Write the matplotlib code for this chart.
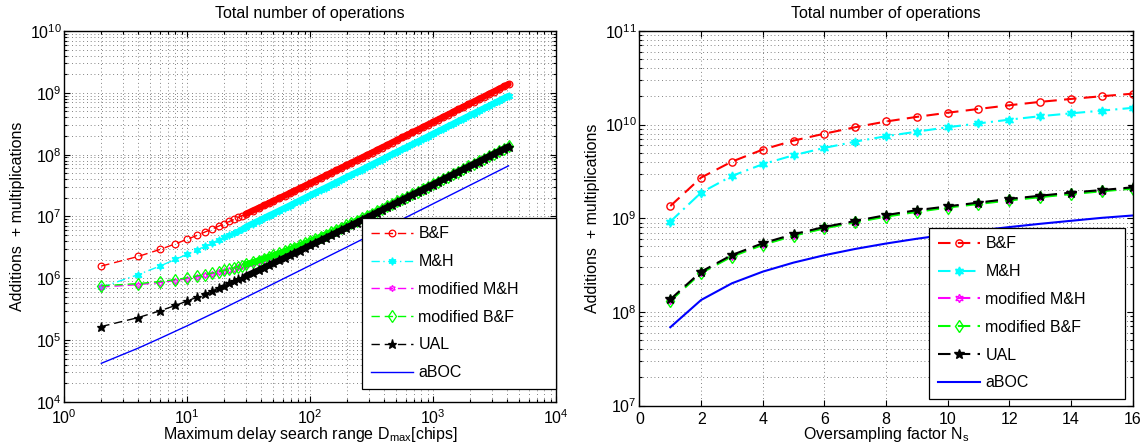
import matplotlib
matplotlib.use("Agg")
import matplotlib.pyplot as plt
import numpy as np

plt.rcParams['font.family'] = ['Liberation Sans', 'DejaVu Sans']
plt.rcParams['mathtext.fontset'] = 'custom'
plt.rcParams['mathtext.rm'] = 'Liberation Sans'
plt.rcParams['mathtext.it'] = 'Liberation Sans:italic'
plt.rcParams['mathtext.bf'] = 'Liberation Sans:bold'

FS = 11.5

# left panel: operations vs. maximum delay search range (values in millions)
d_max = [2, 4, 6, 8, 10, 12, 14, 16, 18, 20,
         22, 24, 26, 28, 30, 34, 38, 42, 46, 50,
         56, 62, 68, 74, 82, 90, 100, 110, 122, 134,
         148, 162, 178, 196, 216, 238, 262, 288, 316, 348,
         382, 420, 462, 508, 560, 616, 678, 746, 820, 902,
         992, 1092, 1200, 1320, 1452, 1598, 1758, 1934, 2126, 2340,
         2574, 2830, 3114, 3426, 3768, 4096]

bf_d = [1.58, 2.26, 2.93, 3.61, 4.28, 4.95, 5.63, 6.30, 6.98, 7.65,
        8.32, 9.00, 9.67, 10.3, 11.0, 12.4, 13.7, 15.1, 16.4, 17.8,
        19.8, 21.8, 23.8, 25.8, 28.5, 31.2, 34.6, 38.0, 42.0, 46.1,
        50.8, 55.5, 60.9, 67.0, 73.7, 81.1, 89.2, 98.0, 107, 118,
        130, 142, 157, 172, 190, 209, 229, 252, 277, 305,
        335, 369, 405, 446, 490, 539, 593, 653, 717, 789,
        868, 955, 1050, 1155, 1271, 1381]

mh_d = [0.714, 1.15, 1.58, 2.02, 2.45, 2.88, 3.32, 3.75, 4.19, 4.62,
        5.05, 5.49, 5.92, 6.36, 6.79, 7.66, 8.53, 9.39, 10.3, 11.1,
        12.4, 13.7, 15.0, 16.3, 18.1, 19.8, 22.0, 24.2, 26.8, 29.4,
        32.4, 35.4, 38.9, 42.8, 47.2, 51.9, 57.1, 62.8, 68.9, 75.8,
        83.2, 91.4, 101, 111, 122, 134, 147, 162, 178, 196,
        216, 237, 261, 287, 315, 347, 382, 420, 462, 508,
        559, 614, 676, 744, 818, 889]

mod_mh_d = [0.725, 0.790, 0.855, 0.920, 0.985, 1.05, 1.12, 1.18, 1.25, 1.31,
            1.38, 1.44, 1.51, 1.57, 1.64, 1.77, 1.90, 2.03, 2.16, 2.29,
            2.48, 2.68, 2.87, 3.07, 3.33, 3.59, 3.91, 4.24, 4.63, 5.02,
            5.47, 5.93, 6.45, 7.03, 7.68, 8.40, 9.18, 10.0, 10.9, 12.0,
            13.1, 14.3, 15.7, 17.2, 18.9, 20.7, 22.7, 24.9, 27.3, 30.0,
            32.9, 36.2, 39.7, 43.6, 47.9, 52.6, 57.8, 63.5, 69.8, 76.7,
            84.3, 92.6, 102, 112, 123, 134]

mod_bf_d = [0.756, 0.822, 0.888, 0.954, 1.02, 1.09, 1.15, 1.22, 1.28, 1.35,
            1.42, 1.48, 1.55, 1.61, 1.68, 1.81, 1.94, 2.08, 2.21, 2.34,
            2.54, 2.74, 2.93, 3.13, 3.40, 3.66, 3.99, 4.32, 4.72, 5.11,
            5.57, 6.04, 6.56, 7.16, 7.82, 8.54, 9.34, 10.2, 11.1, 12.2,
            13.3, 14.6, 15.9, 17.5, 19.2, 21.0, 23.1, 25.3, 27.8, 30.5,
            33.4, 36.7, 40.3, 44.3, 48.6, 53.4, 58.7, 64.5, 70.8, 77.9,
            85.6, 94.1, 103, 114, 125, 136]

ual_d = [0.166, 0.232, 0.298, 0.364, 0.430, 0.496, 0.562, 0.628, 0.694, 0.760,
         0.826, 0.892, 0.958, 1.02, 1.09, 1.22, 1.35, 1.49, 1.62, 1.75,
         1.95, 2.15, 2.34, 2.54, 2.81, 3.07, 3.40, 3.73, 4.13, 4.52,
         4.98, 5.45, 5.97, 6.57, 7.23, 7.95, 8.75, 9.60, 10.5, 11.6,
         12.7, 14.0, 15.3, 16.9, 18.6, 20.4, 22.5, 24.7, 27.2, 29.9,
         32.8, 36.1, 39.7, 43.7, 48.0, 52.8, 58.1, 63.9, 70.3, 77.3,
         85.0, 93.5, 103, 113, 124, 135]

aboc_dx = [2, 4, 6, 10, 20, 50, 100, 200, 500, 1000, 2000, 4096]
aboc_d = [0.0422, 0.0744, 0.107, 0.171, 0.332, 0.815, 1.62, 3.23, 8.06, 16.1, 32.2, 66.0]

# right panel: operations vs. oversampling factor
n_s = [1, 2, 3, 4, 5, 6, 7, 8, 9, 10, 11, 12, 13, 14, 15, 16]
bf_n = [1.35e9, 2.72e9, 4.03e9, 5.41e9, 6.75e9, 8.0e9, 9.38e9, 1.08e10,
        1.21e10, 1.34e10, 1.47e10, 1.61e10, 1.75e10, 1.88e10, 2.01e10, 2.14e10]
mh_n = [9.2e8, 1.88e9, 2.83e9, 3.78e9, 4.71e9, 5.64e9, 6.58e9, 7.52e9,
        8.41e9, 9.38e9, 1.03e10, 1.13e10, 1.23e10, 1.32e10, 1.41e10, 1.51e10]
mod_mh_n = [1.33e8, 2.64e8, 3.96e8, 5.28e8, 6.6e8, 7.9e8, 9.2e8, 1.06e9,
            1.19e9, 1.32e9, 1.45e9, 1.58e9, 1.71e9, 1.84e9, 1.97e9, 2.10e9]
mod_bf_n = [1.31e8, 2.6e8, 3.9e8, 5.2e8, 6.5e8, 7.8e8, 9.05e8, 1.04e9,
            1.17e9, 1.30e9, 1.42e9, 1.55e9, 1.68e9, 1.81e9, 1.94e9, 2.07e9]
ual_n = [1.36e8, 2.69e8, 4.05e8, 5.41e8, 6.75e8, 8.07e8, 9.35e8, 1.08e9,
         1.22e9, 1.34e9, 1.47e9, 1.61e9, 1.74e9, 1.88e9, 2.0e9, 2.14e9]
aboc_n = [6.85e7, 1.34e8, 2.02e8, 2.69e8, 3.36e8, 4.03e8, 4.7e8, 5.37e8,
          6.04e8, 6.71e8, 7.38e8, 8.05e8, 8.72e8, 9.39e8, 1.01e9, 1.07e9]

labels = ['B&F', 'M&H', 'modified M&H', 'modified B&F', 'UAL', 'aBOC']

DASH = (0, (6, 3.5))
DASHDOT = (0, (6, 2.5, 1, 2.5))
HEXA = (6, 1, 0)

# color, linestyle, marker, facecolor, markersize (left / right)
styles = [
    ('#ff0000', DASH, 'o', 'none', 4.8, 5.2),
    ('#00ffff', DASHDOT, HEXA, '#00ffff', 5.5, 6.5),
    ('#ff00ff', DASH, HEXA, 'none', 4.5, 6.0),
    ('#00ff00', DASH, 'd', 'none', 6.0, 6.5),
    ('#000000', DASH, '*', '#000000', 6.8, 7.5),
    ('#0000ff', '-', None, 'none', 0, 0),
]

# where the markers on the log axis pile up into a solid band
BAND_START = 14


def style_axes(ax, minor_x_grid=True):
    ax.tick_params(which='both', direction='in', top=True, right=True,
                   labelsize=FS, width=0.8)
    ax.tick_params(which='major', length=4)
    ax.tick_params(which='minor', length=2.2)
    ax.tick_params(axis='x', pad=4.5)
    ax.tick_params(axis='y', pad=2)
    grid_kw = dict(linestyle=(0, (1, 3.5)), color='0.35', linewidth=0.6)
    ax.grid(True, which='major', **grid_kw)
    ax.grid(True, which='minor', axis='y', **grid_kw)
    if minor_x_grid:
        ax.grid(True, which='minor', axis='x', **grid_kw)
    for sp in ax.spines.values():
        sp.set_linewidth(1.0)
    ax.set_title('Total number of operations', fontsize=FS, pad=9)
    ax.set_ylabel('Additions  + multiplications', fontsize=FS)
    ax.yaxis.set_label_coords(-0.08, 0.5)


def add_legend(ax, anchor):
    leg = ax.legend(loc='lower left', bbox_to_anchor=anchor, mode='expand',
                    fontsize=FS, numpoints=1, handlelength=2.6, handletextpad=0.35,
                    borderpad=0.55, labelspacing=0.8, fancybox=False, framealpha=1,
                    borderaxespad=0)
    leg.get_frame().set_edgecolor('k')
    leg.get_frame().set_linewidth(0.9)


fig = plt.figure(figsize=(11.44, 4.46), dpi=100)
ax1 = fig.add_axes([0.0562, 0.0987, 0.4300, 0.8318])
ax2 = fig.add_axes([0.5590, 0.0908, 0.4310, 0.8397])

# left
left_series = [bf_d, mh_d, mod_mh_d, mod_bf_d, ual_d]
for vals, lab, st in zip(left_series, labels[:5], styles[:5]):
    col, ls, mk, fc, ms, _ = st
    y = np.array(vals) * 1e6
    ax1.plot(d_max[BAND_START:], y[BAND_START:], color=col, lw=4.6,
             solid_capstyle='round', label='_nolegend_')
    ax1.plot(d_max, y, color=col, linestyle=ls, lw=1.0,
             marker=mk, mfc=fc, mec=col, ms=ms, mew=0.9, label=lab)
ax1.plot(aboc_dx, np.array(aboc_d) * 1e6, color='#0000ff', lw=1.0, label='aBOC')
ax1.set_xscale('log')
ax1.set_yscale('log')
ax1.set_xlim(1, 1e4)
ax1.set_ylim(1e4, 1e10)
style_axes(ax1)
ax1.set_xlabel('Maximum delay search range D$_{\\mathrm{max}}$[chips]', fontsize=FS)
ax1.xaxis.set_label_coords(0.5, -0.062)
add_legend(ax1, (0.606, 0.035, 0.394, 0.46))

# right
right_series = [bf_n, mh_n, mod_mh_n, mod_bf_n, ual_n]
for vals, lab, st in zip(right_series, labels[:5], styles[:5]):
    col, ls, mk, fc, _, ms = st
    ax2.plot(n_s, vals, color=col, linestyle=ls, lw=1.5,
             marker=mk, mfc=fc, mec=col, ms=ms, mew=1.0, label=lab)
ax2.plot(n_s, aboc_n, color='#0000ff', lw=1.5, label='aBOC')
ax2.set_yscale('log')
ax2.set_xlim(0, 16)
ax2.set_ylim(1e7, 1e11)
ax2.set_xticks([0, 2, 4, 6, 8, 10, 12, 14, 16])
style_axes(ax2, minor_x_grid=False)
ax2.set_xlabel('Oversampling factor N$_{\\mathrm{s}}$', fontsize=FS)
ax2.xaxis.set_label_coords(0.5, -0.052)
add_legend(ax2, (0.588, 0.017, 0.397, 0.46))

fig.savefig('out.png', dpi=100)
